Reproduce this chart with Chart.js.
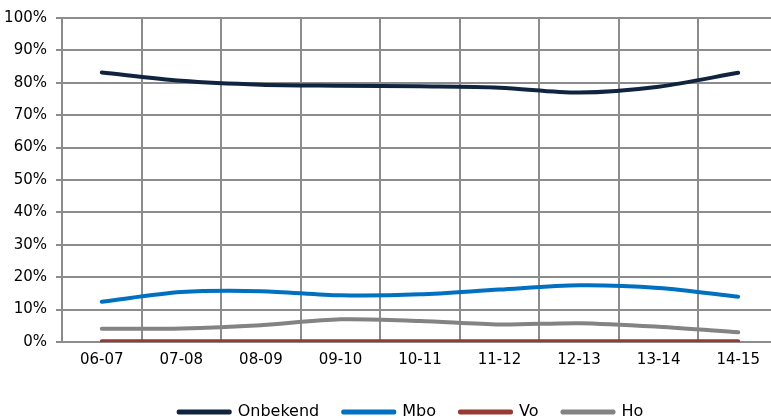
<!DOCTYPE html>
<html>
<head>
<meta charset="utf-8">
<script src="https://cdn.jsdelivr.net/npm/chart.js@4/dist/chart.umd.min.js"></script>
<style>
html,body{margin:0;padding:0;background:#fff;overflow:hidden;}
#wrap{position:relative;width:778px;height:430px;}
</style>
</head>
<body>
<div id="wrap"><canvas id="c"></canvas></div>
<script>
const categories = ["06-07","07-08","08-09","09-10","10-11","11-12","12-13","13-14","14-15"];
const onbekend = [83.2, 80.6, 79.4, 79.1, 78.9, 78.5, 77.0, 78.8, 83.1];
const mbo      = [12.4, 15.4, 15.7, 14.4, 14.7, 16.2, 17.5, 16.7, 14.0];
const vo       = [0.2, 0.2, 0.2, 0.2, 0.2, 0.2, 0.2, 0.2, 0.2];
const ho       = [4.1, 4.2, 5.2, 7.0, 6.5, 5.4, 5.8, 4.7, 3.0];
const yTicks   = [0,10,20,30,40,50,60,70,80,90,100];

const FONT = "'DejaVu Sans', sans-serif";
function ds(label, data, color){
  return {label, data, borderColor: color, backgroundColor: color, borderWidth: 4,
    pointRadius: 0, tension: 0.3, borderCapStyle: 'round', borderJoinStyle: 'round', fill: false};
}
const legendShift = {
  id: 'legendShift',
  afterLayout(chart){
    if (chart.legend){ chart.legend.left += 22; chart.legend.right += 22; }
  }
};
new Chart(document.getElementById('c'), {
  type: 'line',
  data: {
    labels: categories,
    datasets: [
      ds('Onbekend', onbekend, '#10243f'),
      ds('Mbo', mbo, '#0070c0'),
      ds('Vo', vo, '#973a36'),
      ds('Ho', ho, '#838383')
    ]
  },
  plugins: [legendShift],
  options: {
    responsive: true, maintainAspectRatio: false, animation: false,
    layout: {padding: {top: 16, right: 0, left: 0, bottom: 0}},
    plugins: {
      tooltip: {enabled: false},
      legend: {
        position: 'bottom',
        labels: {boxWidth: 51, boxHeight: 1, padding: 24, color: '#000',
          font: {family: FONT, size: 16}}
      }
    },
    scales: {
      x: {
        offset: true,
        grid: {offset: true, color: '#8c8c8c', lineWidth: 2, drawTicks: false},
        border: {display: false},
        ticks: {color: '#000', font: {family: FONT, size: 15}, padding: 9, maxRotation: 0},
        afterFit: s => { s.height = 38; }
      },
      y: {
        min: 0, max: 100,
        afterBuildTicks: s => { s.ticks = yTicks.map(v => ({value: v})); },
        grid: {color: '#8c8c8c', lineWidth: 2, tickLength: 6},
        border: {display: true, color: '#8c8c8c', width: 2},
        ticks: {color: '#000', font: {family: FONT, size: 15}, padding: 9,
          callback: v => v + '%'},
        afterFit: s => { s.width = 62; }
      }
    }
  }
});
</script>
</body>
</html>
